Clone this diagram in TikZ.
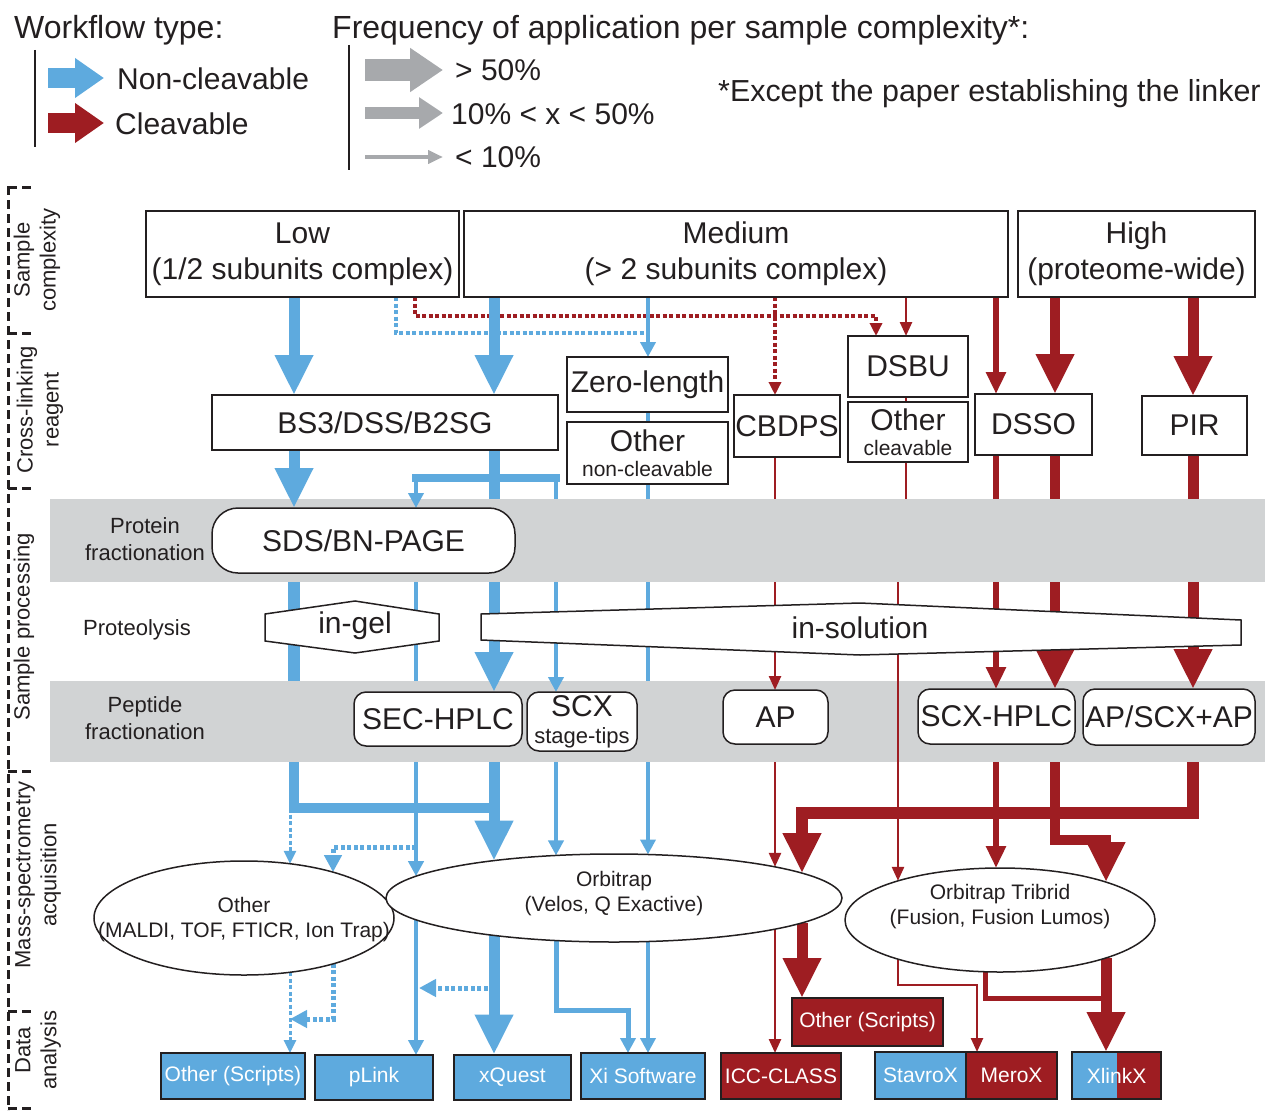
\documentclass[tikz,border=0pt]{standalone}
\usepackage{fontspec}
\setmainfont{Liberation Sans}
\usetikzlibrary{arrows.meta,shapes.geometric,calc}

\definecolor{nblue}{RGB}{94,170,222}
\definecolor{cred}{RGB}{158,29,34}
\definecolor{lgray}{RGB}{209,211,212}
\definecolor{agray}{RGB}{167,169,172}
\definecolor{ink}{RGB}{35,31,32}

\newcommand\txH{\fontsize{32}{38}\selectfont}
\newcommand\txL{\fontsize{30}{36}\selectfont}
\newcommand\txM{\fontsize{22}{27}\selectfont}
\newcommand\txS{\fontsize{21}{25}\selectfont}

\pgfdeclarelayer{conn}
\pgfdeclarelayer{bands}
\pgfdeclarelayer{tips}
\pgfsetlayers{conn,bands,tips,main}

\tikzset{
  box/.style={draw=ink, line width=1.5pt, fill=white, inner sep=0pt, outer sep=0pt,
              font=\txL, text=ink, align=center},
  rbox/.style={box, rounded corners=12pt},
  dbox/.style={draw=ink, line width=2pt, inner sep=0pt, outer sep=0pt, font=\txS, text=white},
  ell/.style={ellipse, draw=ink, line width=1.5pt, fill=white, inner sep=0pt, outer sep=0pt},
  lbl/.style={inner sep=0pt, text=ink, font=\txM, align=center},
  abig/.style={line width=11pt, -{Triangle[length=40pt,width=36pt]}},
  amid/.style={line width=5.5pt, -{Triangle[length=22pt,width=19pt]}},
  asmall/.style={line width=4.5pt, -{Triangle[length=15pt,width=15pt]}},
  athin/.style={line width=2.5pt, -{Triangle[length=14pt,width=12pt]}},
  tipS/.style={-{Triangle[length=13pt,width=12pt]}},
  tipM/.style={-{Triangle[length=17pt,width=17pt]}},
  dotline/.style={dash pattern=on 4pt off 2.5pt},
}

\begin{document}
\begin{tikzpicture}[x=1pt, y=-1pt]
\useasboundingbox (0,0) rectangle (1265,1113);

% ---------- legend ----------
\node[lbl, font=\txH, anchor=west] (wft) at (14,30) {Workflow type:};
\node[lbl, font=\txH, anchor=west] (frq) at (332,30) {Frequency of application per sample complexity*:};
\draw[ink, line width=1.5pt] (35,50) -- (35,147);
\draw[ink, line width=1.5pt] (349,45) -- (349,170);

\coordinate (lgB1) at (48,78);  \coordinate (lgB2) at (104,78);
\coordinate (lgR1) at (48,123); \coordinate (lgR2) at (104,123);
\draw[nblue, line width=20pt, -{Triangle[length=29pt,width=38pt]}] (lgB1) -- (lgB2);
\draw[cred, line width=20pt, -{Triangle[length=29pt,width=38pt]}] (lgR1) -- (lgR2);
\node[lbl, font=\txL, anchor=west] (lgBt) at (117,79) {Non-cleavable};
\node[lbl, font=\txL, anchor=west] (lgRt) at (115,124) {Cleavable};

\coordinate (lgG1a) at (365,70);  \coordinate (lgG1b) at (443,70);
\coordinate (lgG2a) at (365,113); \coordinate (lgG2b) at (443,113);
\coordinate (lgG3a) at (365,157); \coordinate (lgG3b) at (443,157);
\draw[agray, line width=22pt, -{Triangle[length=33pt,width=42pt]}] (lgG1a) -- (lgG1b);
\draw[agray, line width=12pt, -{Triangle[length=24pt,width=30pt]}] (lgG2a) -- (lgG2b);
\draw[agray, line width=4pt, -{Triangle[length=15pt,width=13pt]}] (lgG3a) -- (lgG3b);
\node[lbl, font=\txL, anchor=west] (lgG1t) at (455,70) {> 50\%};
\node[lbl, font=\txL, anchor=west] (lgG2t) at (451,114) {10\% < x < 50\%};
\node[lbl, font=\txL, anchor=west] (lgG3t) at (455,157) {< 10\%};
\node[lbl, font=\fontsize{30.4}{36}\selectfont, anchor=west] (note) at (718,94) {*Except the paper establishing the linker};

% ---------- stage bracket on the left ----------
\draw[ink, line width=3pt, dash pattern=on 9pt off 5pt] (8,186) -- (8,1110);
\foreach \yy in {187,333,488,771,1011,1108}
  \draw[ink, line width=3pt, dash pattern=on 9pt off 5pt] (8,\yy) -- (34,\yy);
\node[lbl, rotate=90, font=\fontsize{22}{26}\selectfont] (vl1) at (37,260) {Sample\\complexity};
\node[lbl, rotate=90, font=\fontsize{22}{26}\selectfont] (vl2) at (40,410) {Cross-linking\\reagent};
\node[lbl, rotate=90, font=\fontsize{22}{26}\selectfont] (vl3) at (24,627) {Sample processing};
\node[lbl, rotate=90, font=\fontsize{22}{26}\selectfont] (vl4) at (38,875) {Mass-spectrometry\\acquisition};
\node[lbl, rotate=90, font=\fontsize{22}{26}\selectfont] (vl5) at (38,1050) {Data\\analysis};

% ---------- gray bands ----------
\begin{pgfonlayer}{bands}
\node[fill=lgray, inner sep=0pt, outer sep=0pt, minimum width=1215pt, minimum height=83pt, anchor=north west] (band1) at (50,499) {};
\node[fill=lgray, inner sep=0pt, outer sep=0pt, minimum width=1215pt, minimum height=81pt, anchor=north west] (band2) at (50,681) {};
\end{pgfonlayer}
\node[lbl] (pf) at (145,539.5) {Protein\\fractionation};
\node[lbl] (prot) at (137,630) {Proteolysis};
\node[lbl] (pepf) at (145,718) {Peptide\\fractionation};

% ---------- sample complexity ----------
\node[box, minimum width=313pt, minimum height=86pt] (low) at (302.5,254) {Low\\(1/2 subunits complex)};
\node[box, minimum width=544pt, minimum height=86pt] (med) at (736,254) {Medium\\(> 2 subunits complex)};
\node[box, minimum width=237pt, minimum height=86pt] (high) at (1136.5,254) {High\\(proteome-wide)};

% ---------- cross-linking reagents ----------
\node[box, minimum width=346pt, minimum height=55pt] (bs3) at (385,422.5) {BS3/DSS/B2SG};
\node[box, minimum width=161pt, minimum height=55pt] (zero) at (647.5,384.5) {Zero-length};
\node[box, font=\txS, minimum width=161pt, minimum height=62pt] (othN) at (647.5,453) {{\txL Other}\\non-cleavable};
\node[box, minimum width=106pt, minimum height=62pt] (cbdps) at (787,426) {CBDPS};
\node[box, minimum width=120pt, minimum height=61pt] (dsbu) at (908,366.5) {DSBU};
\node[box, font=\txS, minimum width=120pt, minimum height=60pt] (othC) at (908,432) {{\txL Other}\\cleavable};
\node[box, minimum width=117pt, minimum height=61pt] (dsso) at (1033.5,424.5) {DSSO};
\node[box, minimum width=105pt, minimum height=59pt] (pir) at (1194.5,425.5) {PIR};

% ---------- sample processing ----------
\node[box, rounded corners=26pt, minimum width=303pt, minimum height=65pt] (sds) at (363.5,540.5) {SDS/BN-PAGE};
\draw[ink, line width=1.5pt, fill=white] (265,614) -- (355,601) -- (439,614) -- (439,641) -- (355,653) -- (265,641) -- cycle;
\node[lbl, font=\txL] (ingel) at (355,626) {in-gel};
\draw[ink, line width=1.5pt, fill=white] (481,614) -- (860,603) -- (1241,620) -- (1241,645) -- (860,655) -- (481,640) -- cycle;
\node[lbl, font=\txL] (insol) at (860,628) {in-solution};
\node[rbox, minimum width=168pt, minimum height=54pt] (sec) at (438,719) {SEC-HPLC};
\node[rbox, font=\txM, minimum width=110pt, minimum height=59pt] (scx) at (582,721.5) {{\txL SCX}\\stage-tips};
\node[rbox, minimum width=105pt, minimum height=54pt] (ap) at (775.5,717) {AP};
\node[rbox, minimum width=157pt, minimum height=55pt] (scxh) at (996.5,716.5) {SCX-HPLC};
\node[rbox, minimum width=172pt, minimum height=56pt] (apscx) at (1169,717) {AP/SCX+AP};

% ---------- mass spectrometers ----------
\node[ell, minimum width=300pt, minimum height=114pt] (othE) at (244,918) {};
\node[lbl, font=\txS] (othEt) at (244,919.5) {Other\\(MALDI, TOF, FTICR, Ion Trap)};
\node[ell, minimum width=456pt, minimum height=88pt] (orbE) at (614,898) {};
\node[lbl, font=\txS] (orbEt) at (614,893.5) {Orbitrap\\(Velos, Q Exactive)};
\node[ell, minimum width=310pt, minimum height=104pt] (triE) at (1000,920) {};
\node[lbl, font=\txS] (triEt) at (1000,906.5) {Orbitrap Tribrid\\(Fusion, Fusion Lumos)};

% ---------- data analysis ----------
\node[dbox, fill=nblue, minimum width=144pt, minimum height=46pt] (othS) at (233,1076) {Other (Scripts)};
\node[dbox, fill=nblue, minimum width=118pt, minimum height=45pt] (plink) at (374,1077.5) {pLink};
\node[dbox, fill=nblue, minimum width=117pt, minimum height=45pt] (xquest) at (512.5,1077) {xQuest};
\node[dbox, fill=nblue, minimum width=124pt, minimum height=46pt] (xisw) at (643,1076) {Xi Software};
\node[dbox, fill=cred, minimum width=120pt, minimum height=46pt] (icc) at (781,1076) {ICC-CLASS};
\node[dbox, fill=cred, minimum width=151pt, minimum height=48pt] (othR) at (867.5,1022) {Other (Scripts)};
\node[dbox, fill=nblue, minimum width=91pt, minimum height=47pt] (stav) at (920.5,1075.5) {StavroX};
\node[dbox, fill=cred, minimum width=91pt, minimum height=47pt] (merox) at (1011.5,1075.5) {MeroX};
\node[dbox, minimum width=89pt, minimum height=47pt,
      path picture={\fill[nblue] (path picture bounding box.north west) rectangle (path picture bounding box.south);
                    \fill[cred] (path picture bounding box.north) rectangle (path picture bounding box.south east);}]
      (xlink) at (1116.5,1075.5) {XlinkX};

% ---------- lanes and levels ----------
\coordinate (xa) at (294,0);  \coordinate (xb) at (416,0);  \coordinate (xc) at (494,0);
\coordinate (xd) at (556,0);  \coordinate (xe) at (648,0);  \coordinate (xf) at (775,0);
\coordinate (xg) at (906,0);  \coordinate (xg2) at (898,0); \coordinate (xh) at (996,0);
\coordinate (xi) at (1055,0); \coordinate (xj) at (1193,0); \coordinate (xk) at (802,0);
\coordinate (xl) at (1106,0); \coordinate (xm) at (290,0);  \coordinate (xn) at (333,0);
\coordinate (xo) at (396,0);  \coordinate (xp) at (415,0);  \coordinate (xq) at (876,0);
\coordinate (xr) at (628,0);  \coordinate (xs) at (985,0);  \coordinate (xt) at (977,0);
\coordinate (xb2) at (419,0);
\coordinate (h316) at (0,316); \coordinate (h333) at (0,333); \coordinate (h478) at (0,478);
\coordinate (h540) at (0,540); \coordinate (h808) at (0,808); \coordinate (h813) at (0,813);
\coordinate (h840) at (0,840); \coordinate (h847) at (0,847); \coordinate (h985) at (0,985);
\coordinate (h988) at (0,988); \coordinate (h998) at (0,998); \coordinate (h1010) at (0,1010);
\coordinate (h1019) at (0,1019);

% ---------- points where the lanes meet the ellipse borders ----------
\coordinate (orbT416) at ($(orbE.center)+(-198,-21.8)$);  \coordinate (orbB416) at ($(orbE.center)+(-198,21.8)$);
\coordinate (orbT494) at ($(orbE.center)+(-120,-37.4)$);  \coordinate (orbB494) at ($(orbE.center)+(-120,37.4)$);
\coordinate (orbT556) at ($(orbE.center)+(-58,-42.55)$);  \coordinate (orbB556) at ($(orbE.center)+(-58,42.55)$);
\coordinate (orbT648) at ($(orbE.center)+(34,-43.5)$);    \coordinate (orbB648) at ($(orbE.center)+(34,43.5)$);
\coordinate (orbT775) at ($(orbE.center)+(161,-31.16)$);  \coordinate (orbB775) at ($(orbE.center)+(161,31.16)$);
\coordinate (orbT802) at ($(orbE.center)+(188,-24.9)$);   \coordinate (orbB802) at ($(orbE.center)+(188,24.9)$);
\coordinate (othT290) at ($(othE.center)+(46,-54.25)$);   \coordinate (othB290) at ($(othE.center)+(46,54.25)$);
\coordinate (othT333) at ($(othE.center)+(89,-45.88)$);   \coordinate (othB333) at ($(othE.center)+(89,45.88)$);
\coordinate (triT898) at ($(triE.center)+(-102,-39.15)$); \coordinate (triB898) at ($(triE.center)+(-102,39.15)$);
\coordinate (triT996) at ($(triE.center)+(-4,-51.97)$);
\coordinate (triB985) at ($(triE.center)+(-15,51.76)$);
\coordinate (triT1106) at ($(triE.center)+(106,-37.94)$); \coordinate (triB1106) at ($(triE.center)+(106,37.94)$);

% ---------- connectors running behind the bands ----------
\begin{pgfonlayer}{conn}
% rare routes
\draw[cred, line width=4pt, dotline, tipS] (low.south -| xp) -- (xp |- h316) -- (xq |- h316) -- (dsbu.north -| xq);
\draw[cred, line width=3.5pt, dotline, tipS] (med.south -| xf) -- (cbdps.north -| xf);
\draw[nblue, line width=4pt, dotline] (low.south -| xo) -- (xo |- h333) -- (xe |- h333);
\draw[nblue, line width=3pt, dotline, tipS] (xm |- h808) -- (othT290);
\draw[nblue, line width=5pt, dotline, tipM] (xb |- h847) -- (xn |- h847) -- (othT333);
\draw[nblue, line width=3pt, dotline, tipS] (othB290) -- (othS.north -| xm);
\draw[nblue, line width=5pt, dotline, tipM] (othB333) -- (xn |- h1019) -- (xm |- h1019);
\draw[nblue, line width=5pt, dotline, tipM] (xc |- h988) -- (xb2 |- h988);

% non-cleavable workflow
\draw[nblue, abig] (low.south -| xa) -- (bs3.north -| xa);
\draw[nblue, abig] (med.south -| xc) -- (bs3.north -| xc);
\draw[nblue, asmall, line width=4pt] (med.south -| xe) -- (zero.north -| xe);
\draw[nblue, line width=4pt] (zero.south -| xe) -- (othN.north -| xe);
\draw[nblue, asmall, line width=4pt] (othN.south -| xe) -- (orbT648);
\draw[nblue, line width=8pt, line cap=rect] (xb |- h478) -- (xd |- h478);
\draw[nblue, line width=11pt] (bs3.south -| xc) -- (xc |- band1.south);
\draw[nblue, line width=4pt] (xd |- h478) -- (xd |- band1.south);
\draw[nblue, line width=12pt] (sds.south -| xa) -- (xa |- band2.south);
\draw[nblue, line width=10pt] (xa |- band2.south) -- (xa |- h808) -- (xc |- h808);
\draw[nblue, asmall] (sds.south -| xb) -- (orbT416);
\draw[nblue, asmall] (orbB416) -- (plink.north -| xb);
\draw[nblue, abig] (sec.south -| xc) -- (orbT494);
\draw[nblue, abig] (orbB494) -- (xquest.north -| xc);
\draw[nblue, asmall, line width=4pt] (scx.south -| xd) -- (orbT556);
\draw[nblue, asmall, line width=5pt] (orbB556) -- (xd |- h1010) -- (xr |- h1010) -- (xisw.north -| xr);
\draw[nblue, asmall, line width=4pt] (orbB648) -- (xisw.north -| xe);

% cleavable workflow
\draw[cred, athin] (med.south -| xg) -- (dsbu.north -| xg);
\draw[cred, amid] (med.south -| xh) -- (dsso.north -| xh);
\draw[cred, abig, line width=10pt] (high.south -| xi) -- (dsso.north -| xi);
\draw[cred, abig] (high.south -| xj) -- (pir.north -| xj);
\draw[cred, line width=2.5pt] (dsbu.south -| xg) -- (othC.north -| xg);
\draw[cred, line width=2.5pt] (cbdps.south -| xf) -- (xf |- band1.south);
\draw[cred, line width=2.5pt] (othC.south -| xg) -- (xg |- h540) -- (xg2 |- h540) -- (xg2 |- band1.south);
\draw[cred, line width=5.5pt] (dsso.south -| xh) -- (xh |- band1.south);
\draw[cred, line width=10pt] (dsso.south -| xi) -- (xi |- band1.south);
\draw[cred, line width=11pt] (pir.south -| xj) -- (xj |- band1.south);
\draw[cred, athin] (ap.south -| xf) -- (orbT775);
\draw[cred, athin] (orbB775) -- (icc.north -| xf);
\draw[cred, abig, line width=12pt] (apscx.south -| xj) -- (xj |- h813) -- (xk |- h813) -- (orbT802);
\draw[cred, abig] (orbB802) -- (othR.north -| xk);
\draw[cred, amid] (scxh.south -| xh) -- (triT996);
\draw[cred, abig, line width=10pt] (scxh.south -| xi) -- (xi |- h840) -- (xl |- h840) -- (triT1106);
\draw[cred, athin] (triB898) -- (xg2 |- h985) -- (xt |- h985) -- (merox.north -| xt);
\draw[cred, line width=5pt] (triB985) -- (xs |- h998) -- (xl |- h998);
\draw[cred, abig] (triB1106) -- (xlink.north -| xl);
\end{pgfonlayer}

% ---------- arrow ends drawn over the bands ----------
\begin{pgfonlayer}{tips}
\draw[nblue, abig] (bs3.south -| xa) -- (sds.north -| xa);
\draw[nblue, asmall] (xb |- h478) -- (sds.north -| xb);
\draw[nblue, abig] (xc |- band1.south) -- (sec.north -| xc);
\draw[nblue, asmall, line width=4pt] (xd |- band1.south) -- (scx.north -| xd);
\draw[cred, athin] (xf |- band1.south) -- (ap.north -| xf);
\draw[cred, athin] (xg2 |- band1.south) -- (triT898);
\draw[cred, amid] (xh |- band1.south) -- (scxh.north -| xh);
\draw[cred, abig, line width=10pt] (xi |- band1.south) -- (scxh.north -| xi);
\draw[cred, abig] (xj |- band1.south) -- (apscx.north -| xj);
\end{pgfonlayer}
\end{tikzpicture}
\end{document}
